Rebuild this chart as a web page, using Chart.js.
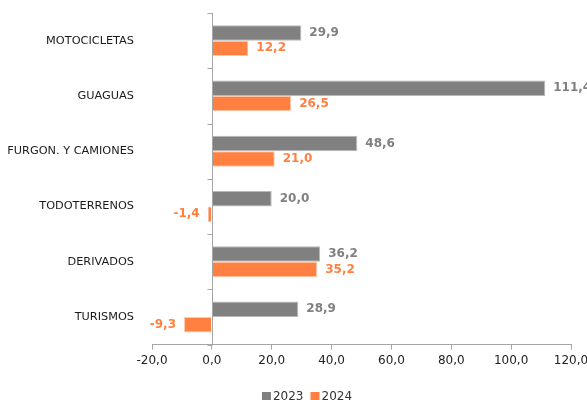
<!DOCTYPE html>
<html>
<head>
<meta charset="utf-8">
<script src="https://cdn.jsdelivr.net/npm/chart.js@4"></script>
<style>
html, body { margin: 0; padding: 0; background: #fff; }
#wrap { width: 587px; height: 400px; }
</style>
</head>
<body>
<div id="wrap"><canvas id="chart"></canvas></div>
<script>
// datos
const categorias = ['MOTOCICLETAS', 'GUAGUAS', 'FURGON. Y CAMIONES', 'TODOTERRENOS', 'DERIVADOS', 'TURISMOS'];
const serie2023 = [29.9, 111.4, 48.6, 20.0, 36.2, 28.9];
const serie2024 = [12.2, 26.5, 21.0, -1.4, 35.2, -9.3];
const ticksX = [-20, 0, 20, 40, 60, 80, 100, 120];

const GRIS = '#808080';
const NARANJA = '#ff8040';
const EJE = '#a6a6a6';
const FUENTE = '"DejaVu Sans", Verdana, sans-serif';

const fmt = v => v.toFixed(1).replace('.', ',');

// etiquetas de valor al final de cada barra
const etiquetas = {
  id: 'etiquetas',
  afterDatasetsDraw(chart) {
    const ctx = chart.ctx;
    ctx.save();
    ctx.font = 'bold 12px ' + FUENTE;
    ctx.textBaseline = 'middle';
    chart.data.datasets.forEach((ds, i) => {
      chart.getDatasetMeta(i).data.forEach((bar, j) => {
        const v = ds.data[j];
        ctx.fillStyle = ds.backgroundColor;
        if (v >= 0) {
          ctx.textAlign = 'left';
          ctx.fillText(fmt(v), bar.x + 8, bar.y);
        } else {
          ctx.textAlign = 'right';
          ctx.fillText(fmt(v), bar.x - 8, bar.y);
        }
      });
    });
    ctx.restore();
  }
};

// eje vertical en el cero con sus marcas
const ejeCero = {
  id: 'ejeCero',
  afterDatasetsDraw(chart) {
    const ctx = chart.ctx;
    const x0 = Math.round(chart.scales.x.getPixelForValue(0)) + 0.5;
    const area = chart.chartArea;
    ctx.save();
    ctx.strokeStyle = EJE;
    ctx.lineWidth = 1;
    ctx.beginPath();
    ctx.moveTo(x0, area.top);
    ctx.lineTo(x0, area.bottom);
    const paso = (area.bottom - area.top) / categorias.length;
    for (let k = 0; k <= categorias.length; k++) {
      const yy = Math.round(area.top + k * paso) + 0.5;
      ctx.moveTo(x0 - 5, yy);
      ctx.lineTo(x0, yy);
    }
    ctx.stroke();
    ctx.restore();
  }
};

// leyenda propia abajo
const leyenda = {
  id: 'leyenda',
  afterDraw(chart) {
    const ctx = chart.ctx;
    const sets = chart.data.datasets;
    ctx.save();
    ctx.font = '12px ' + FUENTE;
    ctx.textBaseline = 'middle';
    ctx.textAlign = 'left';
    const caja = 9, hueco = 2, sep = 7;
    let total = 0;
    sets.forEach((ds, i) => {
      total += caja + hueco + ctx.measureText(ds.label).width + (i < sets.length - 1 ? sep : 0);
    });
    let x = 307 - total / 2;
    const y = 397;
    sets.forEach(ds => {
      ctx.fillStyle = ds.backgroundColor;
      ctx.fillRect(x, y - 5, caja, caja);
      x += caja + hueco;
      ctx.fillStyle = '#333';
      ctx.fillText(ds.label, x, y);
      x += ctx.measureText(ds.label).width + sep;
    });
    ctx.restore();
  }
};

new Chart(document.getElementById('chart'), {
  type: 'bar',
  data: {
    labels: categorias,
    datasets: [
      { label: '2023', data: serie2023, backgroundColor: GRIS, borderColor: '#b8b8b8', borderWidth: 1 },
      { label: '2024', data: serie2024, backgroundColor: NARANJA, borderColor: '#ffc8a8', borderWidth: 1 }
    ]
  },
  options: {
    indexAxis: 'y',
    responsive: true,
    maintainAspectRatio: false,
    animation: false,
    layout: { padding: { top: 13, right: 0, left: 0, bottom: 28 } },
    datasets: { bar: { categoryPercentage: 0.56, barPercentage: 1 } },
    scales: {
      x: {
        min: -20,
        max: 120,
        afterBuildTicks: s => { s.ticks = ticksX.map(v => ({ value: v })); },
        afterFit: s => { s.paddingRight = 16; s.paddingTop = 0; },
        grid: { display: true, drawOnChartArea: false, drawTicks: true, tickLength: 5, tickColor: EJE },
        border: { display: true, color: EJE },
        ticks: {
          color: '#222',
          padding: 4,
          font: { family: FUENTE, size: 12 },
          callback: v => fmt(v)
        }
      },
      y: {
        grid: { display: false, drawTicks: false },
        border: { display: false },
        afterFit: s => { s.width = 152; s.paddingTop = 0; s.paddingBottom = 0; },
        ticks: {
          color: '#1a1a1a',
          padding: 18,
          font: { family: FUENTE, size: 11.3 }
        }
      }
    },
    plugins: {
      legend: { display: false },
      tooltip: { enabled: false }
    }
  },
  plugins: [etiquetas, ejeCero, leyenda]
});
</script>
</body>
</html>
